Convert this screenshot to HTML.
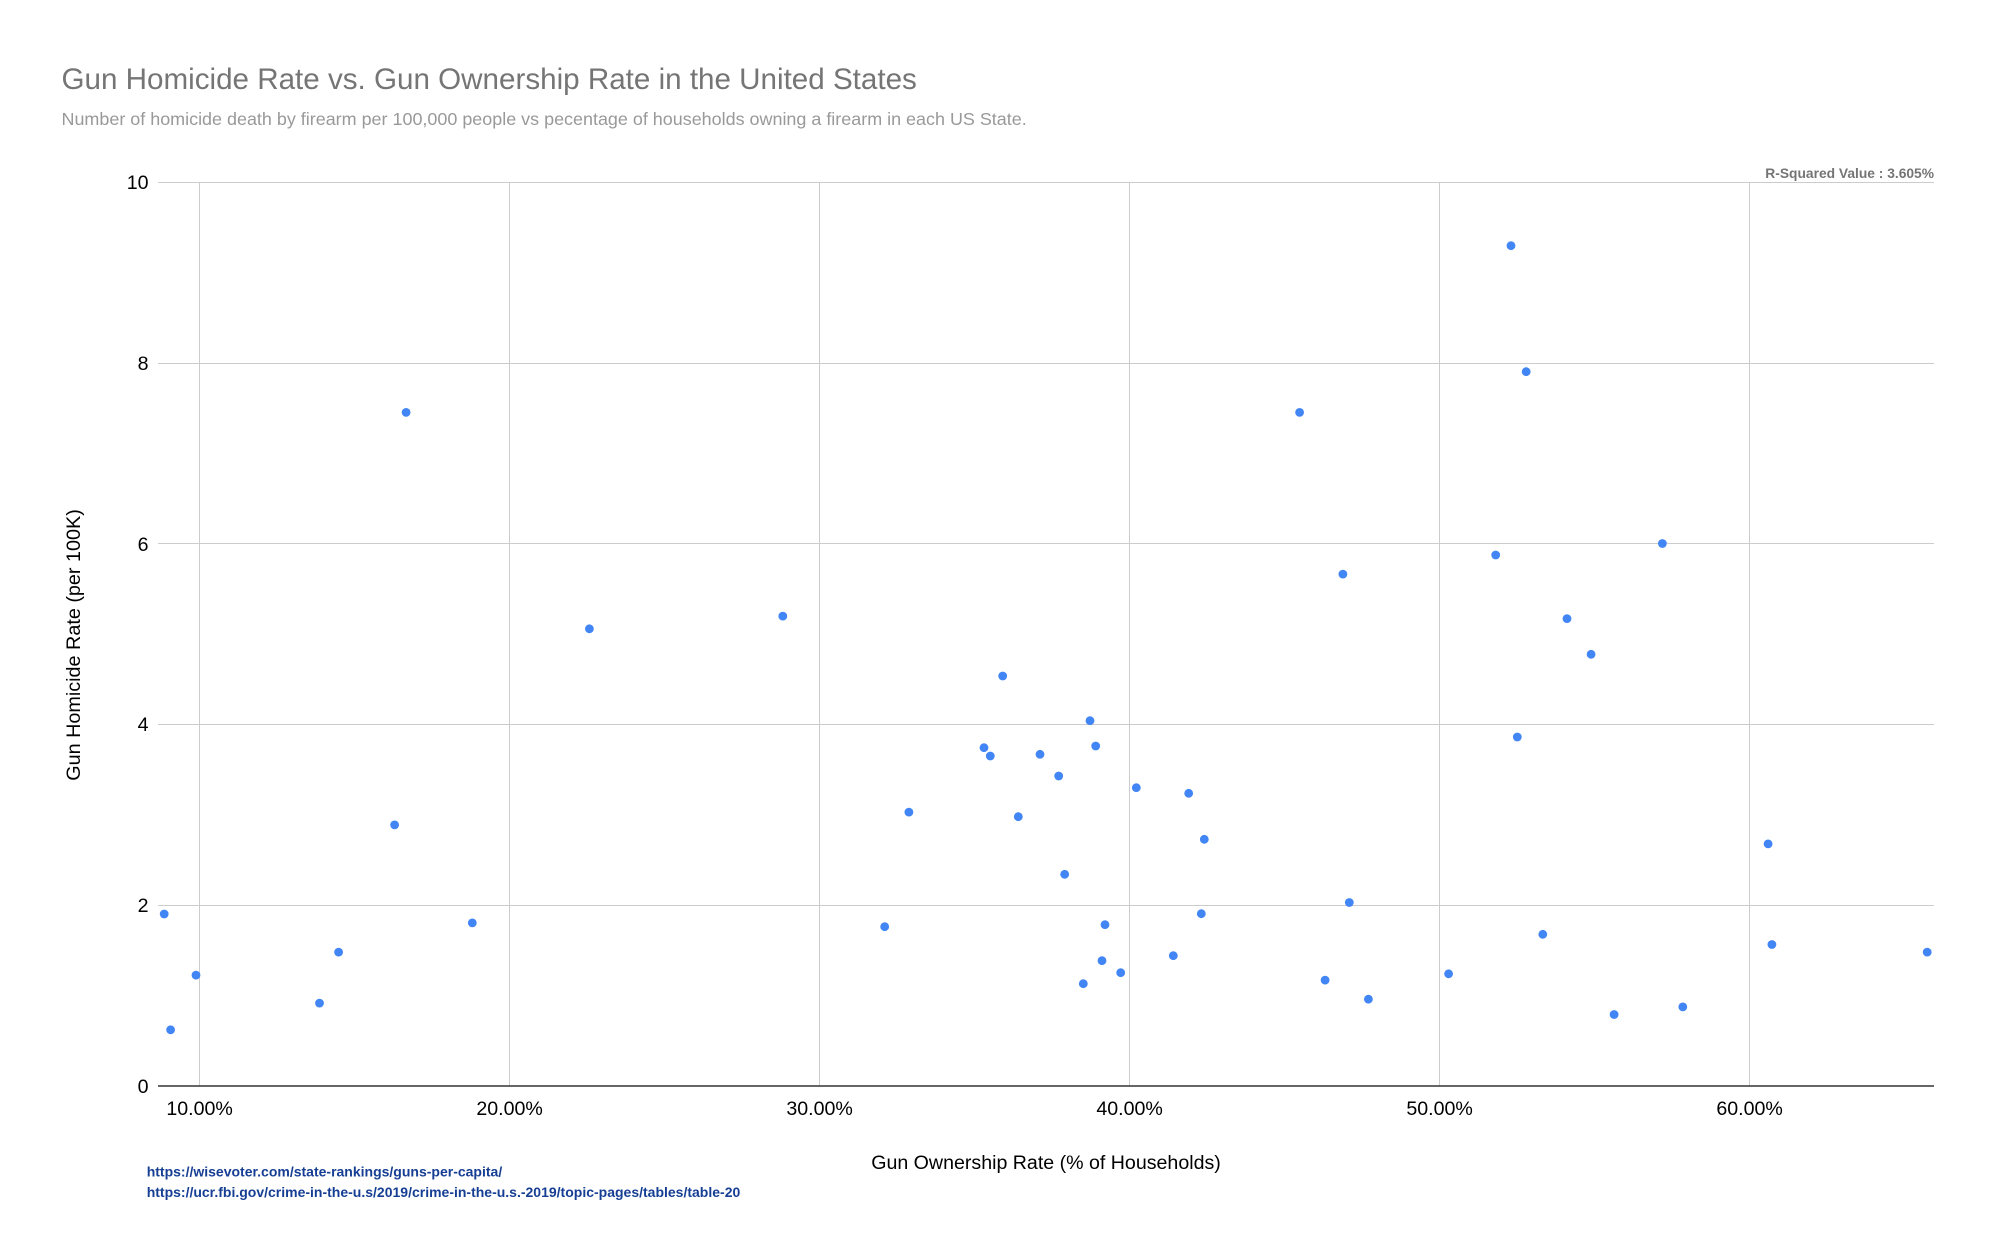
<!DOCTYPE html>
<html>
<head>
<meta charset="utf-8">
<style>
  html, body { margin: 0; padding: 0; background: #ffffff; }
  svg { display: block; }
  text { font-family: "Liberation Sans", Arial, sans-serif; }
</style>
</head>
<body>
<svg width="1996" height="1236" viewBox="0 0 1996 1236" xmlns="http://www.w3.org/2000/svg">
  <rect x="0" y="0" width="1996" height="1236" fill="#ffffff"/>

  <!-- Title & subtitle -->
  <text x="61.5" y="89" font-size="29.6" fill="#757575">Gun Homicide Rate vs. Gun Ownership Rate in the United States</text>
  <text x="61.5" y="125" font-size="17.95" fill="#999999">Number of homicide death by firearm per 100,000 people vs pecentage of households owning a firearm in each US State.</text>

  <!-- R-squared -->
  <text x="1934" y="178" font-size="13.8" font-weight="bold" fill="#757575" text-anchor="end">R-Squared Value : 3.605%</text>

  <!-- Gridlines horizontal -->
  <g stroke="#cccccc" stroke-width="1">
    <line x1="158" y1="182.5" x2="1934" y2="182.5"/>
    <line x1="158" y1="363.5" x2="1934" y2="363.5"/>
    <line x1="158" y1="543.5" x2="1934" y2="543.5"/>
    <line x1="158" y1="724.5" x2="1934" y2="724.5"/>
    <line x1="158" y1="905.5" x2="1934" y2="905.5"/>
  </g>
  <!-- Gridlines vertical -->
  <g stroke="#cccccc" stroke-width="1">
    <line x1="199.5" y1="182" x2="199.5" y2="1086"/>
    <line x1="509.5" y1="182" x2="509.5" y2="1086"/>
    <line x1="819.5" y1="182" x2="819.5" y2="1086"/>
    <line x1="1129.5" y1="182" x2="1129.5" y2="1086"/>
    <line x1="1439.5" y1="182" x2="1439.5" y2="1086"/>
    <line x1="1749.5" y1="182" x2="1749.5" y2="1086"/>
  </g>
  <!-- X axis baseline -->
  <line x1="158" y1="1086" x2="1934" y2="1086" stroke="#333333" stroke-width="1.6"/>

  <!-- Y tick labels -->
  <g font-size="19.6" fill="#000000" text-anchor="end">
    <text x="148.5" y="189">10</text>
    <text x="148.5" y="370">8</text>
    <text x="148.5" y="551">6</text>
    <text x="148.5" y="731">4</text>
    <text x="148.5" y="912">2</text>
    <text x="148.5" y="1093">0</text>
  </g>

  <!-- X tick labels -->
  <g font-size="19.6" fill="#000000" text-anchor="middle">
    <text x="199.6" y="1115">10.00%</text>
    <text x="509.6" y="1115">20.00%</text>
    <text x="819.6" y="1115">30.00%</text>
    <text x="1129.6" y="1115">40.00%</text>
    <text x="1439.6" y="1115">50.00%</text>
    <text x="1749.6" y="1115">60.00%</text>
  </g>

  <!-- Axis titles -->
  <text x="1046" y="1169" font-size="19.6" fill="#000000" text-anchor="middle">Gun Ownership Rate (% of Households)</text>
  <text transform="translate(80,645) rotate(-90)" x="0" y="0" font-size="19.8" fill="#000000" text-anchor="middle">Gun Homicide Rate (per 100K)</text>

  <!-- Source links -->
  <g font-size="14" font-weight="bold" fill="#163f94">
    <text x="146.7" y="1176.7">https://wisevoter.com/state-rankings/guns-per-capita/</text>
    <text x="146.7" y="1196.8">https://ucr.fbi.gov/crime-in-the-u.s/2019/crime-in-the-u.s.-2019/topic-pages/tables/table-20</text>
  </g>

  <!-- Data points -->
  <g fill="#4285f4">
    <circle cx="164.2" cy="914.0" r="4.4"/>
    <circle cx="170.6" cy="1029.8" r="4.4"/>
    <circle cx="196.0" cy="975.1" r="4.4"/>
    <circle cx="319.5" cy="1003.1" r="4.4"/>
    <circle cx="338.6" cy="952.1" r="4.4"/>
    <circle cx="394.6" cy="824.9" r="4.4"/>
    <circle cx="406.1" cy="412.4" r="4.4"/>
    <circle cx="472.3" cy="922.9" r="4.4"/>
    <circle cx="589.4" cy="628.8" r="4.4"/>
    <circle cx="782.8" cy="616.1" r="4.4"/>
    <circle cx="884.7" cy="926.7" r="4.4"/>
    <circle cx="908.9" cy="812.1" r="4.4"/>

    <circle cx="1002.7" cy="676.0" r="4.4"/>
    <circle cx="1090.0" cy="720.7" r="4.4"/>
    <circle cx="984.0" cy="747.7" r="4.4"/>
    <circle cx="990.3" cy="756.0" r="4.4"/>
    <circle cx="1040.0" cy="754.3" r="4.4"/>
    <circle cx="1095.7" cy="746.0" r="4.4"/>
    <circle cx="1058.7" cy="776.0" r="4.4"/>
    <circle cx="1136.3" cy="787.7" r="4.4"/>
    <circle cx="1188.7" cy="793.3" r="4.4"/>
    <circle cx="1018.3" cy="816.7" r="4.4"/>
    <circle cx="1204.3" cy="839.3" r="4.4"/>
    <circle cx="1064.7" cy="874.3" r="4.4"/>
    <circle cx="1201.3" cy="913.7" r="4.4"/>
    <circle cx="1105.0" cy="924.7" r="4.4"/>
    <circle cx="1173.3" cy="955.7" r="4.4"/>
    <circle cx="1102.0" cy="960.7" r="4.4"/>
    <circle cx="1120.7" cy="972.7" r="4.4"/>
    <circle cx="1083.3" cy="983.7" r="4.4"/>

    <circle cx="1299.6" cy="412.4" r="4.4"/>
    <circle cx="1325.1" cy="980.1" r="4.4"/>
    <circle cx="1342.9" cy="574.1" r="4.4"/>
    <circle cx="1349.3" cy="902.5" r="4.4"/>
    <circle cx="1368.4" cy="999.2" r="4.4"/>
    <circle cx="1448.6" cy="973.8" r="4.4"/>
    <circle cx="1495.7" cy="555.0" r="4.4"/>
    <circle cx="1511.0" cy="245.7" r="4.4"/>
    <circle cx="1517.3" cy="737.0" r="4.4"/>
    <circle cx="1526.2" cy="371.7" r="4.4"/>
    <circle cx="1542.8" cy="934.3" r="4.4"/>
    <circle cx="1567.0" cy="618.6" r="4.4"/>
    <circle cx="1591.1" cy="654.3" r="4.4"/>
    <circle cx="1614.1" cy="1014.5" r="4.4"/>
    <circle cx="1662.4" cy="543.5" r="4.4"/>
    <circle cx="1682.8" cy="1006.9" r="4.4"/>
    <circle cx="1768.1" cy="843.9" r="4.4"/>
    <circle cx="1771.9" cy="944.5" r="4.4"/>
    <circle cx="1927.2" cy="952.1" r="4.4"/>
  </g>
</svg>
</body>
</html>
